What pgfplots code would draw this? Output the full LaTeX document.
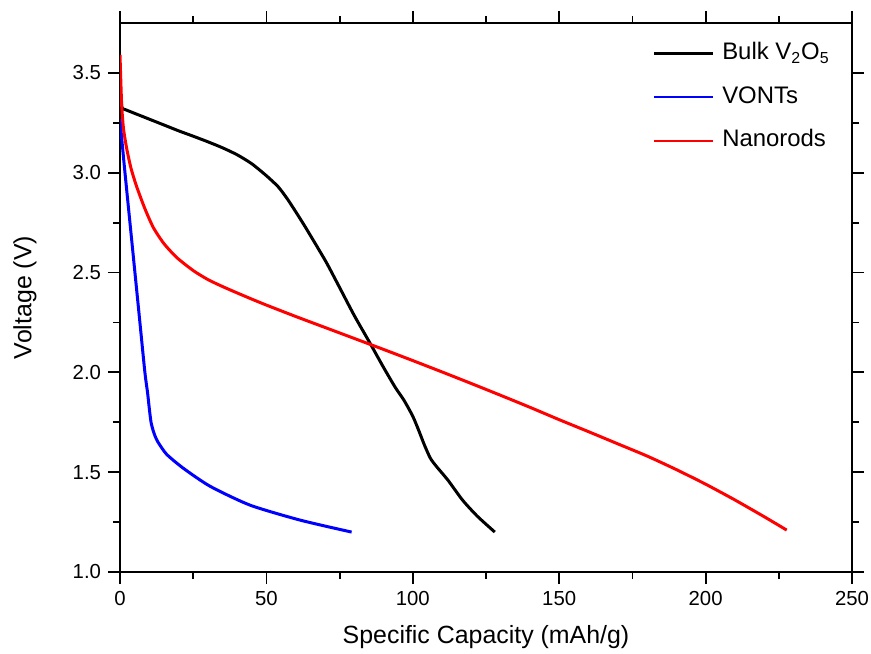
\documentclass[border=0pt]{standalone}
\usepackage{pgfplots}
\pgfplotsset{compat=1.18}
\usepackage{fontspec}
\setmainfont{Liberation Sans}

\begin{document}
\begin{tikzpicture}
\begin{axis}[
  scale only axis,
  width=366bp, height=274.5bp,
  xmin=0, xmax=250, ymin=1.0, ymax=3.75,
  xtick={0,50,100,150,200,250},
  ytick={1.0,1.5,2.0,2.5,3.0,3.5},
  minor x tick num=1, minor y tick num=1,
  tick align=outside,
  major tick length=6bp, minor tick length=3.5bp,
  axis line style={line width=1bp},
  every tick/.style={black, line width=0.9bp},
  y tick label style={/pgf/number format/.cd, fixed, fixed zerofill, precision=1},
  /pgf/number format/assume math mode=true,
  tick label style={font=\fontsize{10.2}{12}\selectfont},
  xlabel={Specific Capacity (mAh/g)}, ylabel={Voltage (V)},
  label style={font=\fontsize{12.5}{14}\selectfont},
  xlabel style={at={([yshift=-32.5bp]axis description cs:0.5,0)}, anchor=center},
  ylabel style={at={([xshift=-47.5bp]axis description cs:0,0.5)}, anchor=center},
  legend cell align=left,
  legend style={draw=none, fill=none, at={(0.7277,0.967)}, anchor=north west,
    inner sep=0pt, row sep=9.8bp,
    nodes={inner sep=0pt, text height=9bp, text depth=3bp},
    font=\fontsize{12}{14}\selectfont},
  legend image code/.code={\draw[#1, line width=1.1bp] (0bp,0bp) -- (29.5bp,0bp);
    \path (33.3bp,0bp);},
]
\addplot[black, line width=1.5bp, smooth, tension=0.4] coordinates {
(0,3.37) (0.3,3.38) (0.7,3.325) (2,3.315) (8,3.28) (14,3.245) (20,3.21)
(25,3.183) (30,3.155) (35,3.125) (40,3.09) (45,3.045) (50,2.985) (54,2.93)
(57,2.872) (60,2.805) (63,2.735) (66,2.662) (70.5,2.55) (75,2.425) (80,2.285)
(85.4,2.146) (90,2.025) (94,1.925) (97,1.86) (100,1.78) (102,1.71)
(104,1.635) (106,1.57) (108,1.53) (112,1.46) (117,1.36) (122,1.28) (128,1.20)
};
\addlegendentry{Bulk V\textsubscript{2}O\textsubscript{5}}
\addplot[blue, line width=1.5bp, smooth, tension=0.4] coordinates {
(0,3.27) (0.6,3.17) (1.7,3.0) (3.4,2.75) (5.1,2.5) (6.8,2.25) (8.5,2.0)
(9.4,1.9) (10,1.82) (10.6,1.75) (11.5,1.70) (12.8,1.655) (15.9,1.59)
(21.6,1.52) (30.7,1.43) (44.4,1.335) (61.5,1.26) (79.1,1.20)
};
\addlegendentry{VONTs}
\addplot[red, line width=1.5bp, smooth, tension=0.4] coordinates {
(0,3.59) (0.3,3.45) (0.6,3.33) (1.2,3.22) (2.3,3.12) (3.8,3.02) (5.7,2.93)
(8.5,2.82) (11.4,2.725) (15,2.645) (19.4,2.575) (25,2.51) (30,2.465)
(35,2.43) (40,2.398) (45,2.367) (50,2.337) (60,2.28) (70,2.225) (80,2.17)
(90,2.115) (100,2.059) (110,2.002) (120,1.944) (130,1.885) (140,1.825)
(150,1.763) (160.5,1.70) (170,1.642) (180,1.581) (190,1.513) (200,1.44)
(210,1.361) (220,1.277) (227.7,1.21)
};
\addlegendentry{Nanorods}
\end{axis}
\pgfresetboundingbox
\path[use as bounding box] ([shift={(-60bp,-41bp)}]current axis.south west)
  rectangle ([shift={(9.5bp,11.5bp)}]current axis.north east);
\end{tikzpicture}
\end{document}
